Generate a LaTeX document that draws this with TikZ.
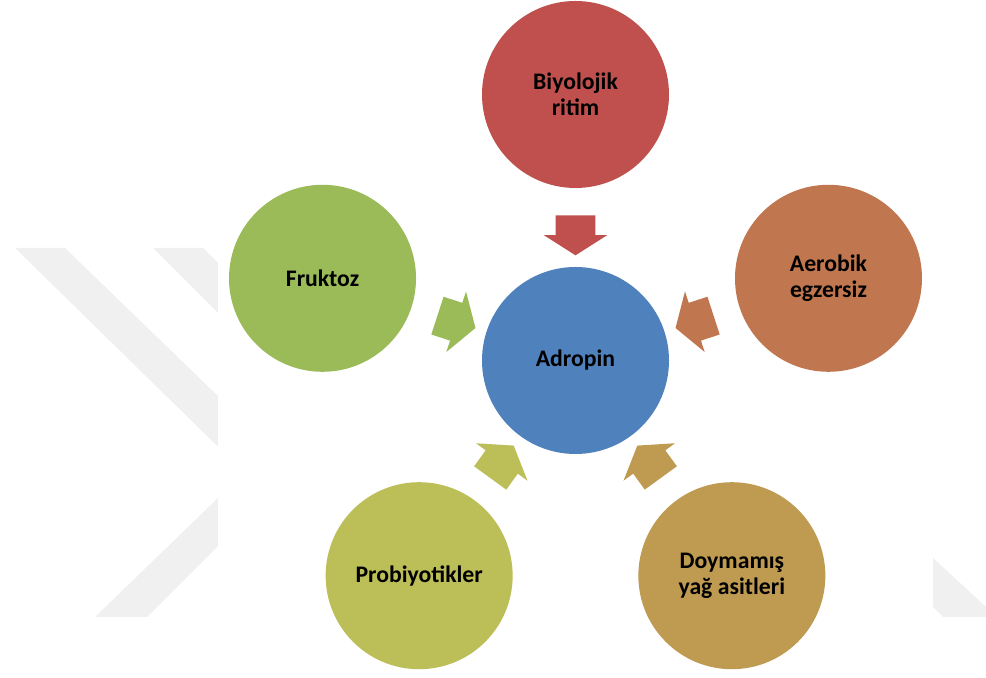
\documentclass[tikz,border=0pt]{standalone}
\usepackage{fontspec}
\setmainfont{Carlito}
\usepackage{tikz}
\usetikzlibrary{positioning, shapes.arrows, calc}
\definecolor{mavi}{RGB}{79, 129, 189}
\definecolor{kirmizi}{RGB}{192, 80, 77}
\definecolor{turuncu}{RGB}{192, 119, 79}
\definecolor{kahve}{RGB}{191, 155, 82}
\definecolor{sarimsi}{RGB}{188, 190, 87}
\definecolor{yesil}{RGB}{155, 187, 89}
\definecolor{filigran}{RGB}{240, 240, 240}

\begin{document}
\begin{tikzpicture}[
    daire/.style={circle, minimum size=3.74cm, inner sep=0pt, align=center,
                  font=\bfseries\fontsize{13.5}{14.8}\selectfont},
    ok/.style={single arrow, inner xsep=0pt, inner ysep=0.39cm, minimum height=0.8cm,
               single arrow head extend=0.24cm, single arrow tip angle=115}]
    \useasboundingbox (0,0) rectangle (19.72,13.54);
    % filigran
    \begin{scope}
      \clip (0,0) rectangle (19.72,13.54);
      \fill[filigran] (0.3,8.58) -- (1.3,8.58) -- (5,5.0) -- (5,3.98) -- cycle;
      \fill[filigran] (3.06,8.58) -- (4.06,8.58) -- (5,7.64) -- (5,6.64) -- cycle;
      \fill[filigran] (1.9,1.2) -- (2.94,1.2) -- (5,3.26) -- (5,4.2) -- cycle;
      \fill[filigran] (18.4,2.62) -- (19.94,1.2) -- (18.86,1.2) -- (18.4,1.66) -- cycle;
      \fill[white] (4.36,0) rectangle (18.66,13.54);
    \end{scope}
    \node[daire, fill=mavi] (adropin) at (11.51,6.33) {Adropin};
    \node[daire, fill=kirmizi] (ritim) at ($(adropin)+(90:5.32)$) {Biyolojik\\ritim};
    \node[daire, fill=turuncu] (egzersiz) at ($(adropin)+(18:5.32)$) {Aerobik\\egzersiz};
    \node[daire, fill=kahve] (yag) at ($(adropin)+(-54:5.32)$) {Doymamış\\yağ asitleri};
    \node[daire, fill=sarimsi] (probiyotik) at ($(adropin)+(-126:5.32)$) {Probiyotikler};
    \node[daire, fill=yesil] (fruktoz) at ($(adropin)+(162:5.32)$) {Fruktoz};
    \node[ok, fill=kirmizi, rotate=-90] (ok1) at ($(adropin)!2.63cm!(ritim)$) {};
    \node[ok, fill=turuncu, rotate=198] (ok2) at ($(adropin)!2.63cm!(egzersiz)$) {};
    \node[ok, fill=kahve, rotate=126] (ok3) at ($(adropin)!2.63cm!(yag)$) {};
    \node[ok, fill=sarimsi, rotate=54] (ok4) at ($(adropin)!2.63cm!(probiyotik)$) {};
    \node[ok, fill=yesil, rotate=-18] (ok5) at ($(adropin)!2.63cm!(fruktoz)$) {};
  \end{tikzpicture}
\end{document}
